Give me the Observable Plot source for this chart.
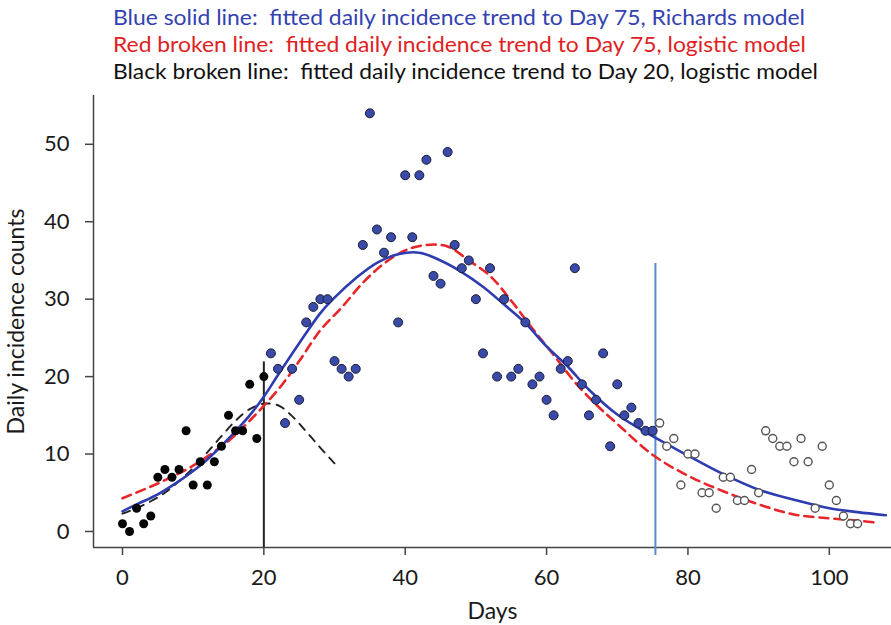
<!DOCTYPE html>
<html><head><meta charset="utf-8">
<script src="https://cdn.jsdelivr.net/npm/d3@7"></script>
<script src="https://cdn.jsdelivr.net/npm/@observablehq/plot@0.6"></script>
<style>
body{margin:0;background:#fff;}
#wrap{position:relative;width:891px;height:625px;overflow:hidden;font-family:Lato,sans-serif;background:#fff;}
.t{position:absolute;left:113px;font-size:21.5px;white-space:pre;line-height:1;transform-origin:0 0;}
</style></head><body>
<div id="wrap">
<div id="chart"></div>
<div class="t" id="t1" style="top:7px;color:#3342b0">Blue solid line:  fitted daily incidence trend to Day 75, Richards model</div>
<div class="t" id="t2" style="top:34px;color:#e0221f">Red broken line:  fitted daily incidence trend to Day 75, logistic model</div>
<div class="t" id="t3" style="top:61px;color:#111">Black broken line:  fitted daily incidence trend to Day 20, logistic model</div>
</div>
<script>
// observed counts up to day 20 (black dots)
const earlyDays = [0,1,2,3,4,5,6,7,8,9,10,11,12,13,14,15,16,17,18,19,20];
const earlyCounts = [1,0,3,1,2,7,8,7,8,13,6,9,6,9,11,15,13,13,19,12,20];
// observed counts day 21-75 (blue dots)
const midDays = d3.range(21, 76);
const midCounts = [23,21,14,21,17,27,29,30,30,22,21,20,21,37,54,39,36,38,27,46,38,46,48,33,32,49,37,34,35,30,23,34,20,30,20,21,27,19,20,17,15,21,22,34,19,15,17,23,11,19,15,16,14,13,13];
// observed counts after day 75 (open circles)
const lateDays = d3.range(76, 105);
const lateCounts = [14,11,12,6,10,10,5,5,3,7,7,4,4,8,5,13,12,11,11,9,12,9,3,11,6,4,2,1,1];

// fitted trends
const richardsDays = [0,2,5,8,10,12,15,18,20,22,25,28,30,33,36,39,42,45,48,51,54,57,60,63,66,70,75,80,85,90,95,100,104,108];
const richardsVals = [2.6,3.5,4.8,6.5,7.8,9.3,12.0,15.0,17.4,20.2,24.3,28.2,30.2,32.7,34.7,35.8,36.0,35.0,33.5,31.6,29.3,26.9,23.9,21.3,18.3,15.1,12.3,9.8,7.4,5.4,4.1,3.0,2.5,2.1];
const logisticDays = [0,5,10,15,18,22,25,28,31,34,37,40,43,46,49,52,55,58,61,64,67,70,75,80,85,90,95,100,104,107];
const logisticVals = [4.3,6.2,8.5,11.7,14.3,18.3,22.0,26.0,28.9,32.1,34.6,36.3,37.0,36.8,35.0,33.0,29.8,26.2,22.8,19.3,16.4,13.9,9.9,7.2,5.2,3.5,2.2,1.7,1.4,1.1];
const early20Days = [0,2,4,6,8,10,12,14,16,18,20,22,24,26,28,30];
const early20Vals = [2.3,3.0,3.9,5.0,6.5,8.2,10.2,12.3,14.3,15.8,16.5,16.3,14.9,12.9,10.8,8.8];

// cut-off markers
const cutDays = [20, 75.4];
const cutTops = [21.9, 34.6];
const cutBottoms = [-2.07, -3.1];
const cutColors = ["#222222", "#5a8ad2"];

const xTicks = [0,20,40,60,80,100];
const yTicks = [0,10,20,30,40,50];
const xDomain = [-4.1, 108.8];
const yDomain = [-2.07, 56.3];

const pts = (xs, ys) => xs.map((d, i) => ({x: d, y: ys[i]}));
const early = pts(earlyDays, earlyCounts);
const mid = pts(midDays, midCounts);
const late = pts(lateDays, lateCounts);
const rich = pts(richardsDays, richardsVals);
const logi = pts(logisticDays, logisticVals);
const e20 = pts(early20Days, early20Vals);
const cuts = cutDays.map((d, i) => ({x: d, y1: cutBottoms[i], y2: cutTops[i], c: cutColors[i]}));

const chart = Plot.plot({
  width: 891, height: 625,
  marginLeft: 93, marginRight: 0, marginTop: 95, marginBottom: 78,
  style: {fontFamily: "Lato, sans-serif", fontSize: "22px", color: "#1a1a1a", background: "white", overflow: "visible"},
  x: {domain: xDomain},
  y: {domain: yDomain},
  marks: [
    Plot.ruleX([xDomain[0]], {stroke: "#444", strokeWidth: 1.5}),
    Plot.ruleY([yDomain[0]], {stroke: "#444", strokeWidth: 1.5}),
    Plot.axisX({ticks: xTicks, tickSize: 8, tickPadding: 14, stroke: "#444", strokeWidth: 1.5, label: "Days", labelAnchor: "center", labelOffset: 71, labelArrow: "none"}),
    Plot.axisY({ticks: yTicks, tickSize: 8, tickPadding: 16, stroke: "#444", strokeWidth: 1.5, label: "Daily incidence counts", labelAnchor: "center", labelOffset: 86, labelArrow: "none"}),
    Plot.ruleX(cuts, {x: "x", y1: "y1", y2: "y2", stroke: "c", strokeWidth: 2}),
    Plot.line(e20, {x: "x", y: "y", curve: "catmull-rom", stroke: "#222", strokeWidth: 1.9, strokeDasharray: "8,7"}),
    Plot.line(logi, {x: "x", y: "y", curve: "catmull-rom", stroke: "#e8262a", strokeWidth: 2.6, strokeDasharray: "9,6"}),
    Plot.line(rich, {x: "x", y: "y", curve: "catmull-rom", stroke: "#2d3cb0", strokeWidth: 2.6}),
    Plot.dot(early, {x: "x", y: "y", r: 4.5, fill: "#050505"}),
    Plot.dot(mid, {x: "x", y: "y", r: 4.5, fill: "#3a4aa8", stroke: "#1b1d3a", strokeWidth: 1}),
    Plot.dot(late, {x: "x", y: "y", r: 4, fill: "white", stroke: "#555", strokeWidth: 1.4})
  ]
});
document.getElementById("chart").appendChild(chart);
d3.select(chart).selectAll('g[aria-label="x-axis label"] text, g[aria-label="y-axis label"] text').style("font-size", "23px");

// fit title lines to their widths in the reference
[["t1", 692], ["t2", 693], ["t3", 705]].forEach(([id, w]) => {
  const el = document.getElementById(id);
  const s = w / el.getBoundingClientRect().width;
  el.style.transform = `scaleX(${s})`;
});
</script>
</body></html>
